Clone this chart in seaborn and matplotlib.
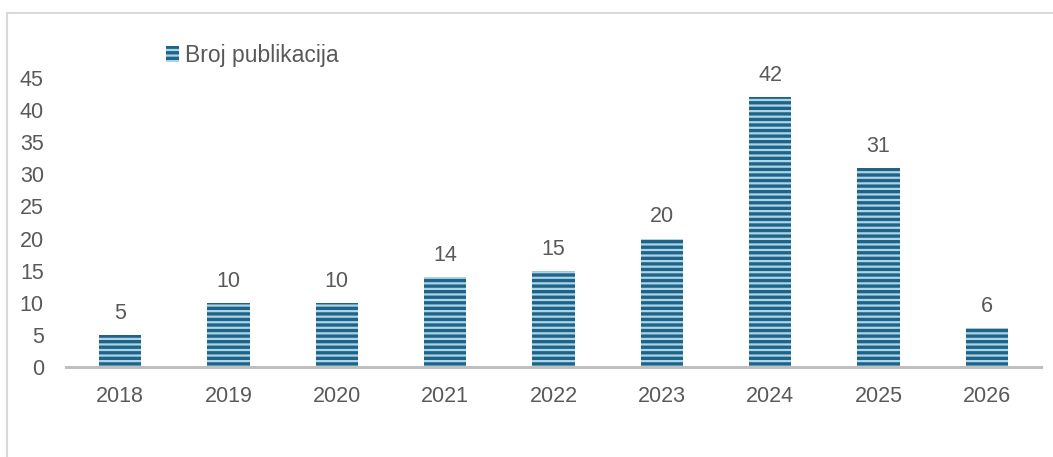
import matplotlib
matplotlib.use("Agg")
import matplotlib.pyplot as plt
from matplotlib.patches import Rectangle, Patch
import seaborn as sns
import pandas as pd

years = ["2018", "2019", "2020", "2021", "2022", "2023", "2024", "2025", "2026"]
counts = [5, 10, 10, 14, 15, 20, 42, 31, 6]
series_name = "Broj publikacija"
y_ticks = [0, 5, 10, 15, 20, 25, 30, 35, 40, 45]

df = pd.DataFrame({"Godina": years, series_name: counts})

sns.set_theme(style="white")
plt.rcParams["font.family"] = ["Liberation Sans", "DejaVu Sans"]
plt.rcParams["hatch.linewidth"] = 2.4
plt.rcParams["hatch.color"] = "#1f6488"

W, H = 1053, 457
fig = plt.figure(figsize=(W / 100, H / 100), dpi=100)
fig.patch.set_facecolor("white")

# outer chart frame
fig.patches.append(Rectangle((7 / W, -0.2), 1.2, (H - 13) / H + 0.2,
                             transform=fig.transFigure, fill=False,
                             edgecolor="#d9d9d9", linewidth=1.5, zorder=0))

left, right = 66 / W, 1041 / W
bottom, top = (H - 367) / H, (H - 78) / H
ax = fig.add_axes([left, bottom, right - left, top - bottom])

light = "#acd5e7"
dark = "#1f6488"
sns.barplot(data=df, x="Godina", y=series_name, ax=ax, color=light,
            width=0.39, saturation=1, edgecolor=light, linewidth=0)
for bar in ax.patches:
    bar.set_hatch("---")
    bar.set_edgecolor(dark)
    bar.set_linewidth(0)

ax.set_xlim(-0.5, len(years) - 0.5)
ax.set_ylim(0, 45)
ax.set_yticks(y_ticks)
ax.set_xlabel("")
ax.set_ylabel("")
text_color = "#595959"
fs = 15.5
ax.tick_params(axis="both", length=0, labelsize=fs, labelcolor=text_color)
ax.tick_params(axis="x", pad=14)
ax.tick_params(axis="y", pad=16)
for s in ["top", "right", "left"]:
    ax.spines[s].set_visible(False)
ax.spines["bottom"].set_color("#bfbfbf")
ax.spines["bottom"].set_linewidth(2.2)
ax.patch.set_alpha(0)

for i, v in enumerate(counts):
    ax.annotate(str(v), (i, v), xytext=(0, 8), textcoords="offset points",
                ha="center", va="bottom", fontsize=fs, color=text_color)

handle = Patch(facecolor=light, edgecolor=dark, hatch="---", linewidth=0)
leg = ax.legend([handle], [series_name], loc="lower left",
                bbox_to_anchor=(166 / W, (H - 67) / H), bbox_transform=fig.transFigure,
                frameon=False, fontsize=16.5, handlelength=0.55, handleheight=0.7,
                handletextpad=0.3, borderpad=0, borderaxespad=0)
for t in leg.get_texts():
    t.set_color(text_color)

fig.savefig("out.png", dpi=100)
